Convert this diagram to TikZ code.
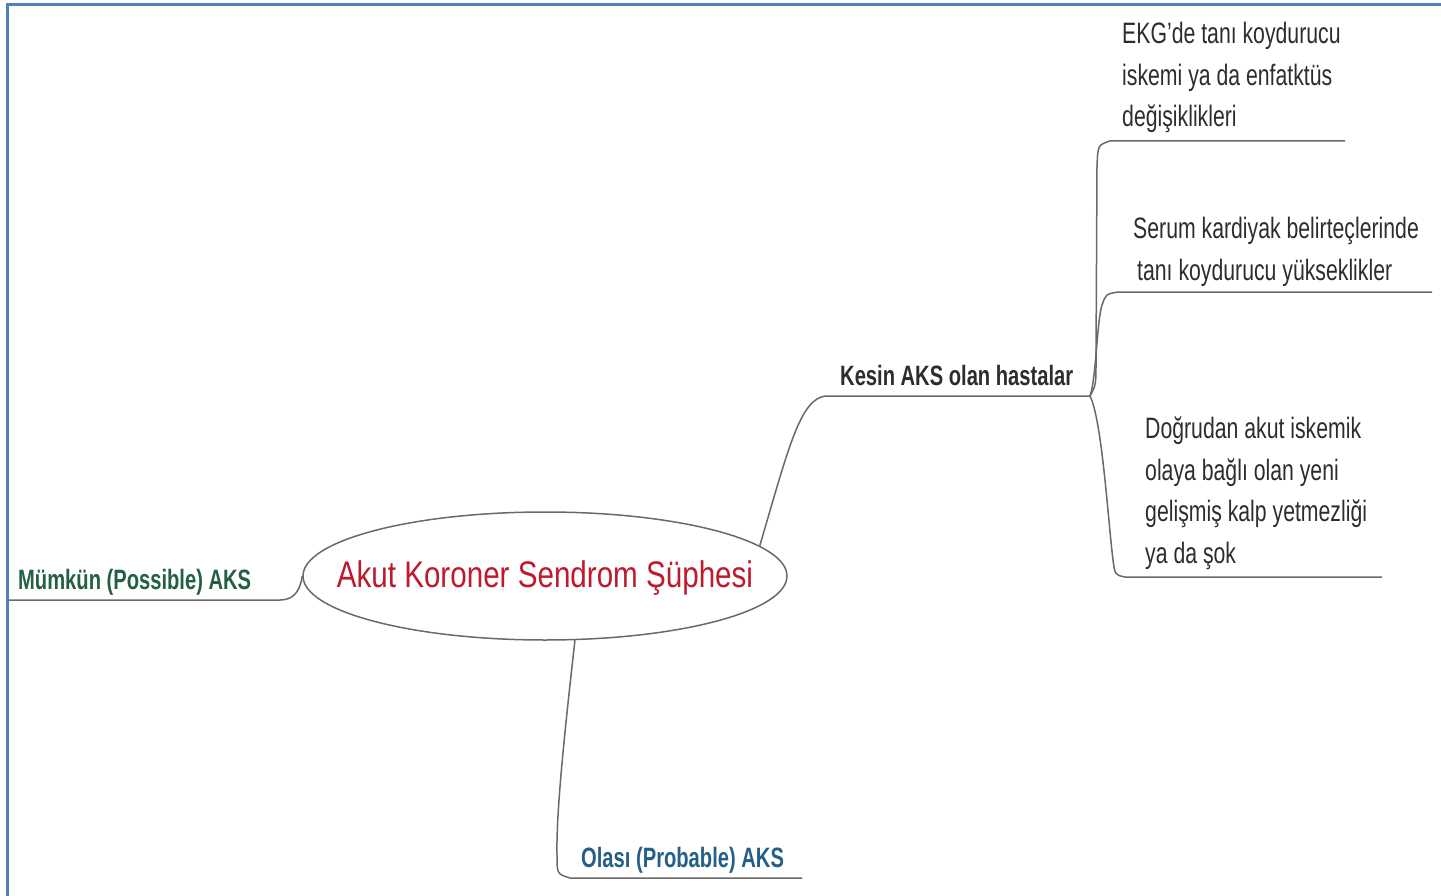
\documentclass[tikz,border=0pt]{standalone}
\usepackage{fontspec}
\setmainfont{Liberation Sans}[FakeStretch=0.72]
\newfontfamily\rootfont{Liberation Sans}[FakeStretch=0.8]
\usepackage{tikz}
\usetikzlibrary{shapes.geometric, positioning}
\definecolor{frameblue}{RGB}{79,129,189}
\definecolor{linegray}{RGB}{105,105,105}
\definecolor{rootred}{RGB}{190,25,45}
\definecolor{mumgreen}{RGB}{35,95,65}
\definecolor{olasiblue}{RGB}{35,95,135}
\definecolor{leafgray}{RGB}{45,45,45}

\begin{document}
\begin{tikzpicture}[x=1pt, y=-1pt,
  branch/.style={draw=linegray, line width=1.5pt},
  leaf/.style={anchor=north west, align=left, inner sep=0pt, text=leafgray, font=\fontsize{29.5}{41.5}\selectfont},
  topic/.style={anchor=base west, inner sep=0pt, font=\bfseries\fontsize{28}{32}\selectfont},
  rootshape/.style={ellipse, draw=linegray, line width=1.5pt, minimum width=484pt, minimum height=128pt, inner sep=0pt}
]
\useasboundingbox (0,0) rectangle (1441,896);
\draw[frameblue, line width=3pt] (7,896) -- (7,5) -- (1441,5);

\node[rootshape, label={[font=\rootfont\fontsize{37}{44}\selectfont, text=rootred, yshift=-2pt]center:Akut Koroner Sendrom Şüphesi}] (root) at (545,576) {};
\node[topic, text=leafgray] (kesin) at (840,385) {Kesin AKS olan hastalar};
\node[topic, text=mumgreen] (mumkun) at (18,589) {Mümkün (Possible) AKS};
\node[topic, text=olasiblue] (olasi) at (581,867) {Olası (Probable) AKS};
\node[leaf] (ekg) at (1122,22) {EKG'de tanı koydurucu\\iskemi ya da enfatktüs\\değişiklikleri};
\node[leaf] (serum) at (1133,217) {Serum kardiyak belirteçlerinde\\\hspace*{4pt}tanı koydurucu yükseklikler};
\node[leaf] (dogru) at (1145,417) {Doğrudan akut iskemik\\olaya bağlı olan yeni\\gelişmiş kalp yetmezliği\\ya da şok};

\coordinate (kesL) at (826,396);
\coordinate (kesR) at (1090,396);
\coordinate (mumL) at (8,600);
\coordinate (mumR) at (280,600);
\coordinate (olL) at (570,878);
\coordinate (olR) at (802,878);
\coordinate (ekgL) at (1110,141);
\coordinate (ekgR) at (1345,141);
\coordinate (serL) at (1118,292);
\coordinate (serR) at (1432,292);
\coordinate (dogL) at (1125,577);
\coordinate (dogR) at (1382,577);

\draw[branch] (root.west) .. controls (300,592) and (293,600) .. (mumR) -- (mumL);
\draw[branch] (root.-65) .. controls (566,720) and (556,810) .. (557,855) .. controls (557,874) .. (olL) -- (olR);
\draw[branch] (root.8) .. controls (788,450) and (800,398) .. (kesL) -- (kesR);
\draw[branch] (kesR) .. controls (1096,385) .. (1096,360) -- (1097,165) .. controls (1098,145) .. (ekgL) -- (ekgR);
\draw[branch] (kesR) .. controls (1096,380) and (1097,320) .. (1102,305) .. controls (1106,294) .. (serL) -- (serR);
\draw[branch] (kesR) .. controls (1102,420) and (1108,520) .. (1113,560) .. controls (1115,575) .. (dogL) -- (dogR);
\end{tikzpicture}
\end{document}
